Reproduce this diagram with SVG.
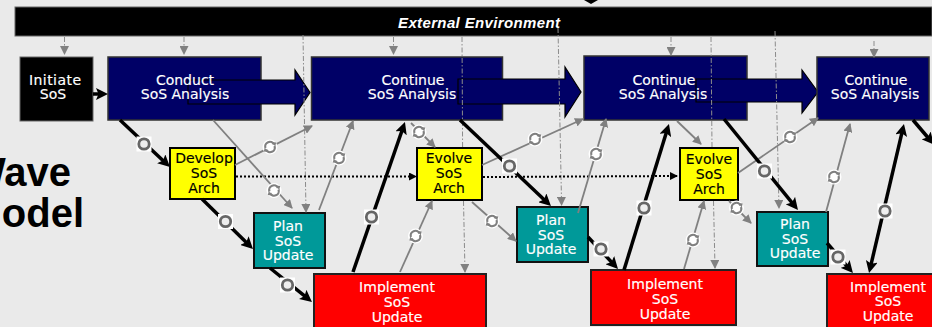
<svg xmlns="http://www.w3.org/2000/svg" width="932" height="327" viewBox="0 0 932 327">
<style>
.t{font-family:"DejaVu Sans",Verdana,sans-serif;font-size:14px;text-anchor:middle}
.w{fill:#fff;stroke:#fff;stroke-width:.15}.k{fill:#000;stroke:#000;stroke-width:.15}
.n{fill:#000066;stroke:#333;stroke-width:1.5}
.b{fill:#000066;stroke:#000;stroke-width:1.2}
.y{fill:#ff0;stroke:#000;stroke-width:2}
.g{fill:#009999;stroke:#111;stroke-width:2}
.r{fill:#f00;stroke:#222;stroke-width:2}
.h{font-family:"Liberation Sans",Arial,sans-serif;font-size:40px;font-weight:bold;fill:#000;text-anchor:end}
.thick{fill:none;stroke:#000;stroke-width:3.5;marker-end:url(#ah)}
.thin{fill:none;stroke:#808080;stroke-width:1.8;marker-end:url(#gh)}
.dd{fill:none;stroke:#8c8c8c;stroke-width:1;stroke-dasharray:5 2 1.5 2}
.dda{fill:none;stroke:#8c8c8c;stroke-width:1;stroke-dasharray:5 2 1.5 2;marker-end:url(#gh)}
.dot{fill:none;stroke:#000;stroke-width:2;stroke-dasharray:2 2}
</style>
<defs>
<marker id="ah" markerUnits="userSpaceOnUse" markerWidth="12" markerHeight="12" viewBox="0 0 12 12" refX="6" refY="6" orient="auto-start-reverse"><path d="M0 0L12 6L0 12L2.5 6Z" fill="#000"/></marker>
<marker id="gh" markerUnits="userSpaceOnUse" markerWidth="9" markerHeight="9" viewBox="0 0 9 9" refX="8" refY="4.5" orient="auto"><path d="M0 0L9 4.5L0 9Z" fill="#808080"/></marker>
<marker id="dh" markerUnits="userSpaceOnUse" markerWidth="8" markerHeight="8" viewBox="0 0 8 8" refX="7" refY="4" orient="auto"><path d="M0 0L8 4L0 8Z" fill="#000"/></marker>
<g id="bk"><rect x="-7.5" y="-7.5" width="15" height="15" fill="#fff"/><circle r="5.2" fill="#eeeeee" stroke="#666" stroke-width="2.8"/></g>
<g id="bg"><circle r="7.5" fill="#fff"/><path d="M-4.5 1A4.6 4.6 0 0 1 4 -2.5M4.5 -1A4.6 4.6 0 0 1 -4 2.5" fill="none" stroke="#808080" stroke-width="2.2"/><path d="M2 -5L6.2 -4.5L5.2 -0.5ZM-2 5L-6.2 4.5L-5.2 0.5Z" fill="#808080"/></g>
</defs>
<rect width="932" height="327" fill="#eaeaea"/>
<text class="h" x="71" y="186">Wave</text>
<text class="h" x="84" y="227">Model</text>
<g id="external-environment">
<rect x="15" y="7" width="917" height="29" fill="#000" stroke="#666" stroke-width="1"/>
<polygon points="584,0 598,0 591,4" fill="#000"/>
<text x="479" y="28" font-family="Liberation Sans, Arial, sans-serif" font-size="15" font-weight="bold" font-style="italic" fill="#fff" text-anchor="middle" textLength="162" lengthAdjust="spacing">External Environment</text>
</g>
<g id="initiate"><rect x="20" y="57" width="73" height="64" fill="#000" stroke="#666" stroke-width="1"/><text class="t w" x="55" y="85" textLength="52">Initiate</text><text class="t w" x="53" y="99">SoS</text></g>
<g id="conduct"><rect class="n" x="108" y="57" width="153" height="63"/><polygon class="b" points="188,80 295,80 295,70 310,92.5 295,115 295,104 188,104"/><text class="t w" x="185" y="85">Conduct</text><text class="t w" x="185" y="99">SoS Analysis</text></g>
<g id="continue-1"><rect class="n" x="311.5" y="57" width="191" height="63"/><polygon class="b" points="458,79 565,79 565,67 581,92 565,117 565,104 458,104"/><text class="t w" x="413" y="85">Continue</text><text class="t w" x="412" y="99">SoS Analysis</text></g>
<g id="continue-2"><rect class="n" x="584" y="56" width="163" height="64"/><polygon class="b" points="696,79 802,79 802,70 818,92 802,113 802,102 696,102"/><text class="t w" x="664" y="85">Continue</text><text class="t w" x="663" y="99">SoS Analysis</text></g>
<g id="continue-3"><rect class="n" x="817" y="57" width="112" height="63"/><text class="t w" x="876" y="85">Continue</text><text class="t w" x="875" y="99">SoS Analysis</text></g>
<g id="develop"><rect class="y" x="170" y="148" width="65" height="51"/><text class="t k" x="204" y="163">Develop</text><text class="t k" x="204" y="178">SoS</text><text class="t k" x="204" y="193">Arch</text></g>
<g id="evolve-1"><rect class="y" x="417" y="148" width="65" height="52"/><text class="t k" x="449" y="163">Evolve</text><text class="t k" x="449" y="178">SoS</text><text class="t k" x="449" y="193">Arch</text></g>
<g id="evolve-2"><rect class="y" x="680" y="148" width="58" height="52"/><text class="t k" x="709" y="164">Evolve</text><text class="t k" x="709" y="179">SoS</text><text class="t k" x="709" y="194">Arch</text></g>
<g id="plan-1"><rect class="g" x="254" y="213" width="71" height="55"/><text class="t w" x="288" y="231">Plan</text><text class="t w" x="288" y="246">SoS</text><text class="t w" x="288" y="260">Update</text></g>
<g id="plan-2"><rect class="g" x="517" y="207" width="71" height="55"/><text class="t w" x="551" y="225">Plan</text><text class="t w" x="551" y="240">SoS</text><text class="t w" x="551" y="254">Update</text></g>
<g id="plan-3"><rect class="g" x="757" y="212" width="71" height="54"/><text class="t w" x="795" y="229">Plan</text><text class="t w" x="795" y="244">SoS</text><text class="t w" x="795" y="258">Update</text></g>
<g id="implement-1"><rect class="r" x="314" y="274" width="172" height="54"/><text class="t w" x="397" y="292">Implement</text><text class="t w" x="397" y="307">SoS</text><text class="t w" x="397" y="322">Update</text></g>
<g id="implement-2"><rect class="r" x="591" y="270" width="145" height="55"/><text class="t w" x="665" y="289">Implement</text><text class="t w" x="665" y="304">SoS</text><text class="t w" x="665" y="319">Update</text></g>
<g id="implement-3"><rect class="r" x="827" y="274" width="106" height="54"/><text class="t w" x="888" y="292">Implement</text><text class="t w" x="888" y="306">SoS</text><text class="t w" x="888" y="321">Update</text></g>
<g id="connectors">
<path class="dda" d="M64.5 37V54"/><path class="dda" d="M184 37V54"/><path class="dda" d="M393.5 37V54"/><path class="dda" d="M671 37V55"/><path class="dda" d="M874 41V57"/>
<path class="dda" d="M303 35L306 212"/>
<path class="dd" d="M462 37L462.6 147"/><path class="dda" d="M463.5 201L465 272"/>
<path class="dda" d="M558 28L561.6 205"/>
<path class="dd" d="M711 37L712 147"/><path class="dda" d="M713.5 201L715 268"/>
<path class="dda" d="M775 31L779 208"/>
<path class="dot" d="M236 176.5H416" marker-end="url(#dh)"/><path class="dot" d="M483 177L677 176" marker-end="url(#dh)"/>
<path class="thin" d="M235 165L312 126"/><path class="thin" d="M213 120L292 208"/><path class="thin" d="M319 210L353 121"/><path class="thin" d="M400 272L432 201"/><path class="thin" d="M411 123L435 147"/><path class="thin" d="M482 165L583 119"/><path class="thin" d="M472 202L516 241"/><path class="thin" d="M578 213L606 119"/><path class="thin" d="M684 269L704 201"/><path class="thin" d="M677 121L701 144"/><path class="thin" d="M729 201L751 223"/><path class="thin" d="M738 173L818 118"/><path class="thin" d="M826 212L850 124"/>
<path class="thick" d="M93 94H102"/><path class="thick" d="M120 120L165.6 162.9"/><path class="thick" d="M202 199L248.7 244.8"/><path class="thick" d="M270 268L307.3 298.2"/><path class="thick" d="M353 272L403 127.7"/><path class="thick" d="M460 120L546.6 201.9"/><path class="thick" d="M588 237L613.9 264.6"/><path class="thick" d="M624 270L667.2 129.7"/><path class="thick" d="M724 119L794.2 205.3"/><path class="thick" d="M827 243L849 268.5"/><path class="thick" d="M870.4 267.2L902.6 129.8" marker-start="url(#ah)"/><path class="thick" d="M913 120L930 140"/>
<use href="#bk" x="144" y="144"/><use href="#bk" x="225.5" y="221.5"/><use href="#bk" x="287.5" y="285"/><use href="#bk" x="371.5" y="217"/><use href="#bk" x="509.5" y="166"/><use href="#bk" x="601" y="249"/><use href="#bk" x="644" y="208"/><use href="#bk" x="764.5" y="171"/><use href="#bk" x="838" y="257"/><use href="#bk" x="885" y="211"/>
<use href="#bg" x="270" y="147"/><use href="#bg" x="274" y="190.5"/><use href="#bg" x="339" y="158"/><use href="#bg" x="415.5" y="236"/><use href="#bg" x="419" y="132"/><use href="#bg" x="535" y="139"/><use href="#bg" x="492" y="221"/><use href="#bg" x="596" y="154"/><use href="#bg" x="693" y="240"/><use href="#bg" x="736.5" y="208"/><use href="#bg" x="790" y="137"/><use href="#bg" x="834" y="177"/>
</g>
</svg>
